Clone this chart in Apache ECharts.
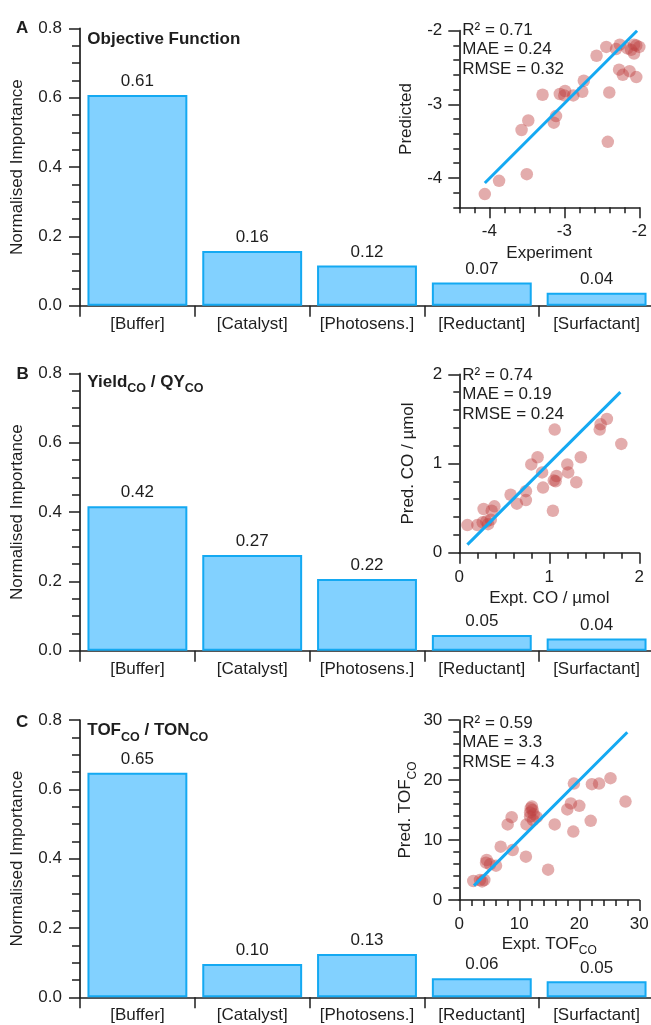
<!DOCTYPE html>
<html>
<head>
<meta charset="utf-8">
<script src="https://cdn.jsdelivr.net/npm/echarts@6/dist/echarts.min.js"></script>
<style>
html, body { margin: 0; padding: 0; background: #fff; }
#chart { width: 651px; height: 1025px; }
</style>
</head>
<body>
<div id="chart"></div>
<script>
// feature importance bars
const categories = ['[Buffer]', '[Catalyst]', '[Photosens.]', '[Reductant]', '[Surfactant]'];
const importanceA = [0.608, 0.158, 0.116, 0.067, 0.037];
const labelsA = ['0.61', '0.16', '0.12', '0.07', '0.04'];
const importanceB = [0.417, 0.276, 0.207, 0.045, 0.035];
const labelsB = ['0.42', '0.27', '0.22', '0.05', '0.04'];
const importanceC = [0.648, 0.096, 0.125, 0.055, 0.046];
const labelsC = ['0.65', '0.10', '0.13', '0.06', '0.05'];

// parity plots (experiment vs predicted)
const exptA = [-4.06, -3.87, -3.50, -3.57, -3.48, -3.29, -3.14, -3.11, -3.06, -2.99, -3.00, -2.88, -2.76, -2.74, -2.57,
  -2.44, -2.40, -2.42, -2.27, -2.22, -2.13, -2.04, -2.26, -2.31, -2.11, -2.07, -2.04, -2.00, -2.07, -2.16];
const predA = [-4.22, -4.04, -3.95, -3.35, -3.22, -2.87, -3.25, -3.16, -2.86, -2.82, -2.88, -2.88, -2.83, -2.68, -2.34,
  -2.22, -2.84, -3.51, -2.53, -2.60, -2.55, -2.63, -2.19, -2.25, -2.26, -2.31, -2.20, -2.22, -2.19, -2.24];
const fitXA = [-4.06, -2.03];
const fitYA = [-4.07, -2.00];
const statsA = ['R² = 0.71', 'MAE = 0.24', 'RMSE = 0.32'];

const exptB = [0.09, 0.20, 0.26, 0.27, 0.30, 0.32, 0.35, 0.36, 0.39, 0.57, 0.64, 0.74, 0.74, 0.80, 0.87,
  0.92, 0.93, 1.04, 1.06, 1.07, 1.08, 1.05, 1.20, 1.21, 1.30, 1.35, 1.56, 1.57, 1.64, 1.80];
const predB = [0.31, 0.31, 0.34, 0.49, 0.35, 0.32, 0.37, 0.47, 0.52, 0.65, 0.55, 0.59, 0.69, 0.99, 1.07,
  0.90, 0.73, 0.47, 1.38, 0.80, 0.86, 0.81, 0.99, 0.90, 0.79, 1.07, 1.38, 1.44, 1.50, 1.22];
const fitXB = [0.09, 1.79];
const fitYB = [0.09, 1.80];
const statsB = ['R² = 0.74', 'MAE = 0.19', 'RMSE = 0.24'];

const exptC = [2.33, 3.45, 4.17, 3.8, 4.56, 4.45, 5.12, 6.12, 6.9, 8.9, 8.06, 8.73, 11.1, 11.2, 11.8, 11.8, 11.9,
  12.2, 12.1, 12.4, 12.9, 12.3, 14.8, 15.9, 18.0, 18.6, 19.0, 19.1, 20.0, 21.9, 22.1, 23.3, 25.2, 27.7];
const predC = [3.17, 3.33, 3.33, 3.1, 6.67, 6.22, 5.94, 5.72, 8.89, 8.33, 12.6, 13.8, 7.22, 12.6, 13.9, 14.6, 15.3,
  15.0, 15.6, 14.3, 13.8, 13.3, 5.06, 12.6, 15.1, 16.1, 11.4, 19.4, 15.7, 13.2, 19.3, 19.4, 20.3, 16.4];
const fitXC = [2.45, 28.0];
const fitYC = [2.39, 27.95];
const statsC = ['R² = 0.59', 'MAE = 3.3', 'RMSE = 4.3'];

const FONT = 'Liberation Sans, Arial, sans-serif';
const INK = '#1e1e1e';
const BLUE = '#14a9f2';

const axisLine = { show: true, onZero: false, lineStyle: { color: INK, width: 1.7 } };
const tickStyle = { color: INK, width: 1.5 };
// main text centred in a 26px line, subscript sits on the line bottom
const richSub = {
  m: { fontSize: 17, lineHeight: 26, verticalAlign: 'middle', color: INK, fontFamily: FONT },
  s: { fontSize: 12, lineHeight: 12, verticalAlign: 'bottom', color: INK, fontFamily: FONT }
};
const richSubBold = {
  m: { fontSize: 17, lineHeight: 26, verticalAlign: 'middle', color: INK, fontFamily: FONT, fontWeight: 'bold' },
  s: { fontSize: 12.5, lineHeight: 12, verticalAlign: 'bottom', color: INK, fontFamily: FONT, fontWeight: 'bold' }
};

// bar panels
const barTops = [28.4, 373.4, 720];
const barData = [importanceA, importanceB, importanceC];
const barLabels = [labelsA, labelsB, labelsC];

const grids = [];
const xAxes = [];
const yAxes = [];
const series = [];

barTops.forEach(function (top, i) {
  grids.push({ left: 80, top: top, width: 574, height: 277.3, outerBoundsMode: 'none' });
  xAxes.push({
    type: 'category', gridIndex: i, data: categories,
    axisLine: axisLine,
    axisTick: { show: true, length: 11, interval: 0, lineStyle: tickStyle },
    axisLabel: { interval: 0, margin: 8.5, fontSize: 17, lineHeight: 20, color: INK, fontFamily: FONT },
    splitLine: { show: false }
  });
  yAxes.push({
    type: 'value', gridIndex: i, min: 0, max: 0.8, interval: 0.2,
    name: 'Normalised Importance', nameLocation: 'middle', nameGap: 51,
    nameTextStyle: { fontSize: 17, lineHeight: 20, color: INK, fontFamily: FONT },
    axisLine: axisLine,
    axisTick: { show: true, length: 11, lineStyle: tickStyle },
    minorTick: { show: true, splitNumber: 4, length: 8, lineStyle: tickStyle },
    axisLabel: { margin: 18, fontSize: 17, color: INK, fontFamily: FONT, formatter: v => v.toFixed(1) },
    splitLine: { show: false }
  });
  series.push({
    type: 'bar', xAxisIndex: i, yAxisIndex: i, data: barData[i],
    barCategoryGap: '13%',
    itemStyle: { color: '#82d1ff', borderColor: BLUE, borderWidth: 2 },
    label: {
      show: true, position: 'top', distance: 5, fontSize: 17, color: INK, fontFamily: FONT,
      formatter: p => barLabels[i][p.dataIndex]
    }
  });
});

// parity insets
const insets = [
  { top: 30.7, height: 176.6, min: -4.4, max: -2, ex: exptA, pr: predA, fx: fitXA, fy: fitYA,
    xName: 'Experiment', yName: 'Predicted', xGap: 35.7, yGap: 42.6 },
  { top: 374.3, height: 178.4, min: 0, max: 2, ex: exptB, pr: predB, fx: fitXB, fy: fitYB,
    xName: 'Expt. CO / µmol', yName: 'Pred. CO / µmol', xGap: 35.6, yGap: 41 },
  { top: 720, height: 180, min: 0, max: 30, ex: exptC, pr: predC, fx: fitXC, fy: fitYC,
    xName: '{m|Expt. TOF}{s|CO}', yName: '{m|Pred. TOF}{s|CO}', xGap: 28.7, yGap: 41, rich: true }
];

insets.forEach(function (c, k) {
  const gi = 3 + k;
  const shifted = c.min === -4.4;   // panel A: major ticks drawn by overlay axes
  const nameStyle = c.rich
    ? { rich: richSub }
    : { fontSize: 17, lineHeight: 20, color: INK, fontFamily: FONT };
  const valueAxis = function (labelMargin) {
    return {
      type: 'value', gridIndex: gi, min: c.min, max: c.max,
      interval: shifted ? 0.2 : (c.max - c.min) / 2 > 5 ? 10 : 1,
      nameLocation: 'middle', nameTextStyle: nameStyle,
      axisLine: axisLine,
      axisTick: { show: true, length: shifted ? 6 : 11, lineStyle: tickStyle },
      minorTick: { show: !shifted, splitNumber: 5, length: 6, lineStyle: tickStyle },
      axisLabel: { show: !shifted, margin: labelMargin, fontSize: 17, lineHeight: 20, color: INK, fontFamily: FONT },
      splitLine: { show: false }
    };
  };
  grids.push({ left: 459.3, top: c.top, width: 180, height: c.height, outerBoundsMode: 'none' });
  xAxes.push(Object.assign(valueAxis(14.5), { name: c.xName, nameGap: c.xGap }));
  yAxes.push(Object.assign(valueAxis(17), { name: c.yName, nameGap: c.yGap }));
  series.push({
    type: 'scatter', xAxisIndex: gi, yAxisIndex: gi, symbolSize: 12.5, z: 2,
    data: c.ex.map((x, j) => [x, c.pr[j]]),
    itemStyle: { color: 'rgba(192, 66, 66, 0.55)' }
  });
  series.push({
    type: 'line', xAxisIndex: gi, yAxisIndex: gi, symbol: 'none', z: 3,
    data: c.fx.map((x, j) => [x, c.fy[j]]),
    lineStyle: { color: BLUE, width: 3 }
  });
});

// panel A inset: integer major ticks + labels on overlay grids
grids.push({ left: 489.3, top: 30.7, width: 150, height: 176.6, outerBoundsMode: 'none' });
xAxes.push({
  type: 'value', gridIndex: 6, min: -4, max: -2, interval: 1,
  axisLine: { show: false, onZero: false },
  axisTick: { show: true, length: 11, lineStyle: tickStyle },
  axisLabel: { margin: 14.5, fontSize: 17, lineHeight: 20, color: INK, fontFamily: FONT },
  splitLine: { show: false }
});
yAxes.push({ type: 'value', gridIndex: 6, min: -4.4, max: -2, show: false });
grids.push({ left: 459.3, top: 30.7, width: 180, height: 147.2, outerBoundsMode: 'none' });
xAxes.push({ type: 'value', gridIndex: 7, min: -4.4, max: -2, show: false });
yAxes.push({
  type: 'value', gridIndex: 7, min: -4, max: -2, interval: 1,
  axisLine: { show: false, onZero: false },
  axisTick: { show: true, length: 11, lineStyle: tickStyle },
  axisLabel: { margin: 17, fontSize: 17, color: INK, fontFamily: FONT },
  splitLine: { show: false }
});

const plainTitle = function (text, left, top, bold) {
  return {
    text: text, left: left, top: top, padding: 0,
    textStyle: { fontSize: 17, lineHeight: bold ? 20 : 19.6, fontWeight: bold ? 'bold' : 'normal', color: INK, fontFamily: FONT }
  };
};
const richTitle = function (text, left, top) {
  return { text: text, left: left, top: top, padding: 0, textStyle: { rich: richSubBold } };
};

const titles = [
  plainTitle('A', 16, 18.7, true),
  plainTitle('B', 16.5, 364.3, true),
  plainTitle('C', 16, 712.7, true),
  richTitle('{m|Objective Function}', 87.3, 26),
  richTitle('{m|Yield}{s|CO}{m| / QY}{s|CO}', 87.3, 369.3),
  richTitle('{m|TOF}{s|CO}{m| / TON}{s|CO}', 87.3, 717.7),
  plainTitle(statsA.join('\n'), 462.3, 20.2, false),
  plainTitle(statsB.join('\n'), 462.3, 365.2, false),
  plainTitle(statsC.join('\n'), 462.3, 713.2, false)
];

const chart = echarts.init(document.getElementById('chart'), null, { renderer: 'canvas' });
chart.setOption({
  animation: false,
  backgroundColor: '#fff',
  textStyle: { fontFamily: FONT },
  title: titles,
  grid: grids,
  xAxis: xAxes,
  yAxis: yAxes,
  series: series
});
</script>
</body>
</html>
